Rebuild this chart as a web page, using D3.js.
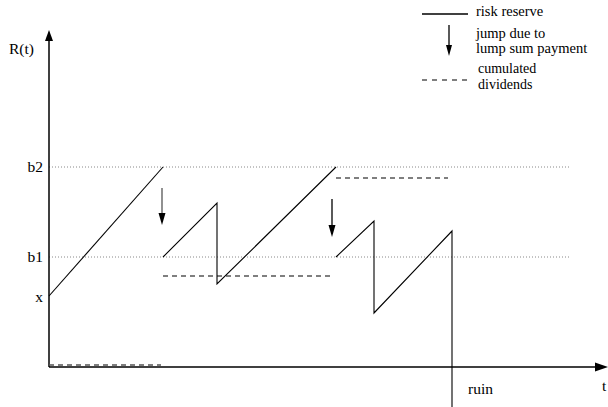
<!DOCTYPE html>
<html>
<head>
<meta charset="utf-8">
<script src="https://cdn.jsdelivr.net/npm/d3@7"></script>
<style>
  body { margin: 0; background: #fff; }
</style>
</head>
<body>
<div id="chart"></div>
<script>
// levels of the barrier strategy
var levelNames = ["b1", "b2"];
var levelValues = [1.1, 2.0];
var startValue = 0.71; // x

// risk reserve path, split at the lump sum jumps
var reserveT = [[0, 1.14], [1.14, 1.68, 1.68, 2.87], [2.87, 3.25, 3.25, 4.03, 4.03]];
var reserveR = [[0.71, 2.0], [1.1, 1.64, 0.83, 2.0], [1.1, 1.46, 0.54, 1.36, -0.4]];

// jumps due to lump sum payment
var jumpT = [1.13, 2.83];
var jumpFrom = [1.79, 1.68];
var jumpTo = [1.42, 1.30];

// cumulated dividends
var divStart = [0, 1.14, 2.87];
var divEnd = [1.12, 2.84, 3.99];
var divValue = [0.02, 0.91, 1.89];

var ruinT = 4.03;

// legend texts
var legendLines = ["risk reserve", "jump due to", "lump sum payment", "cumulated", "dividends"];

function addText(sel, x, y, size, txt) {
    return sel.append("text")
        .attr("x", x).attr("y", y)
        .attr("font-family", "Liberation Serif")
        .attr("font-size", size)
        .attr("fill", "#000")
        .text(txt);
}

function init() {
    var w = 608, h = 407;

    var xScale = d3.scaleLinear().domain([0, 5.51]).range([49, 600]);
    var yScale = d3.scaleLinear().domain([0, 3.37]).range([367, 30]);

    var svg = d3.select("#chart").append("svg")
        .attr("width", w)
        .attr("height", h);

    // dotted barrier levels
    svg.selectAll("line.level")
        .data(levelValues)
        .enter()
        .append("line")
        .attr("class", "level")
        .attr("x1", xScale(0))
        .attr("x2", xScale(5.21))
        .attr("y1", function(d) { return yScale(d); })
        .attr("y2", function(d) { return yScale(d); })
        .style("stroke", "#888")
        .style("stroke-width", 1)
        .style("stroke-dasharray", "1,2");

    // axes with arrowheads
    svg.append("line")
        .attr("x1", xScale(0)).attr("y1", yScale(0))
        .attr("x2", xScale(0)).attr("y2", yScale(3.27))
        .style("stroke", "#000").style("stroke-width", 1.5);
    svg.append("path")
        .attr("d", "M" + xScale(0) + "," + yScale(3.37) + "l-4,11l8,0z")
        .style("fill", "#000");
    svg.append("line")
        .attr("x1", xScale(0)).attr("y1", yScale(0))
        .attr("x2", xScale(5.47)).attr("y2", yScale(0))
        .style("stroke", "#000").style("stroke-width", 1.5);
    svg.append("path")
        .attr("d", "M" + (xScale(5.59)) + "," + yScale(0) + "l-13,-4.5l0,9z")
        .style("fill", "#000");

    // cumulated dividends
    svg.selectAll("line.div")
        .data(divValue)
        .enter()
        .append("line")
        .attr("class", "div")
        .attr("x1", function(d, i) { return xScale(divStart[i]); })
        .attr("x2", function(d, i) { return xScale(divEnd[i]); })
        .attr("y1", function(d) { return yScale(d); })
        .attr("y2", function(d) { return yScale(d); })
        .style("stroke", "#555")
        .style("stroke-width", 1.5)
        .style("stroke-dasharray", "5,4");

    // risk reserve
    var line = d3.line()
        .x(function(d) { return xScale(d[0]); })
        .y(function(d) { return yScale(d[1]); });

    svg.selectAll("path.reserve")
        .data(reserveT.map(function(ts, i) {
            return ts.map(function(t, j) { return [t, reserveR[i][j]]; });
        }))
        .enter()
        .append("path")
        .attr("class", "reserve")
        .attr("d", line)
        .style("fill", "none")
        .style("stroke", "#000")
        .style("stroke-width", 1.1);

    // jumps
    jumpT.forEach(function(t, i) {
        var x = xScale(t), y1 = yScale(jumpFrom[i]), y2 = yScale(jumpTo[i]);
        svg.append("line")
            .attr("x1", x).attr("x2", x)
            .attr("y1", y1).attr("y2", y2 - 8)
            .style("stroke", i == 0 ? "#555" : "#000").style("stroke-width", 1.3);
        svg.append("path")
            .attr("d", "M" + x + "," + y2 + "l-3.5,-12l7,0z")
            .style("fill", "#000");
    });

    // labels
    addText(svg, 9, 54, 15.5, "R(t)");
    levelNames.forEach(function(d, i) {
        addText(svg, 43, yScale(levelValues[i]) + 5, 15.5, d).attr("text-anchor", "end");
    });
    addText(svg, 43, yScale(startValue) + 6, 15.5, "x").attr("text-anchor", "end");
    addText(svg, xScale(ruinT) + 16, 394, 15.5, "ruin");
    addText(svg, 602, 391, 15.5, "t");

    // legend
    var lg = svg.append("g");
    lg.append("line").attr("x1", 422).attr("x2", 468).attr("y1", 14).attr("y2", 14)
        .style("stroke", "#000").style("stroke-width", 1.3);
    lg.append("line").attr("x1", 449).attr("x2", 449).attr("y1", 25).attr("y2", 48)
        .style("stroke", "#000").style("stroke-width", 1.3);
    lg.append("path").attr("d", "M449,56l-3,-11l6,0z").style("fill", "#000");
    lg.append("line").attr("x1", 422).attr("x2", 468).attr("y1", 80).attr("y2", 80)
        .style("stroke", "#555").style("stroke-width", 1.5).style("stroke-dasharray", "5,5");
    var legendX = [476, 476, 476, 478, 478];
    var legendY = [16, 38, 53, 73, 89];
    var legendSize = [14.5, 14.5, 14.5, 14, 14];
    legendLines.forEach(function(d, i) {
        addText(lg, legendX[i], legendY[i], legendSize[i], d);
    });
}

window.onload = init;
</script>
</body>
</html>
